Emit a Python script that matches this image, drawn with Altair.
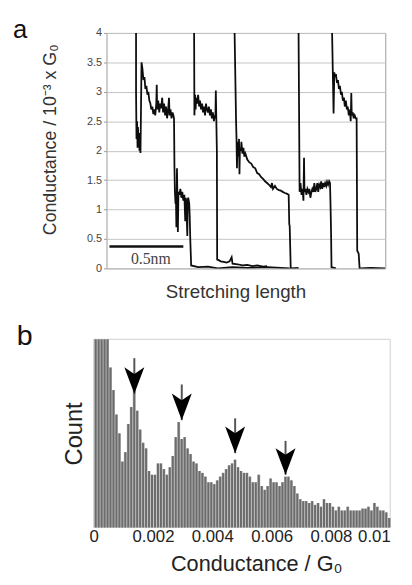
import altair as alt
import pandas as pd

FONT = "Liberation Sans"

t1_x = [0.200, 0.200, 0.203, 0.207, 0.210, 0.213, 0.217, 0.220, 0.223, 0.227,
        0.230, 0.233, 0.237, 0.243, 0.250, 0.257, 0.263, 0.270, 0.277, 0.283,
        0.290, 0.297, 0.303, 0.310, 0.317, 0.323, 0.330, 0.337, 0.340, 0.343,
        0.350, 0.357, 0.363, 0.370, 0.377, 0.383, 0.390, 0.397, 0.403, 0.410,
        0.417, 0.423, 0.427, 0.433, 0.440, 0.447, 0.453, 0.457, 0.460, 0.463,
        0.467, 0.470, 0.473, 0.477, 0.480, 0.483, 0.487, 0.493, 0.500, 0.507,
        0.513, 0.520, 0.527, 0.533, 0.537, 0.540, 0.547, 0.550, 0.553, 0.560,
        0.563, 0.567, 0.573, 0.620, 0.687, 0.753, 0.853, 0.953, 1.087, 1.180, 1.240]
t1_y = [4.0, 3.0, 2.2, 2.5, 2.05, 2.4, 2.1, 2.3, 2.0, 2.1,
        1.96, 2.6, 3.5, 3.4, 3.2, 3.25, 3.05, 3.1, 2.95, 3.0,
        2.85, 2.8, 2.7, 2.75, 2.62, 2.7, 2.6, 2.8, 3.12, 2.7,
        2.85, 2.65, 2.8, 2.72, 2.9, 2.65, 2.8, 2.6, 2.75, 2.55,
        2.7, 2.9, 2.6, 2.7, 2.55, 2.65, 2.6, 2.55, 1.7, 1.3,
        1.1, 1.2, 0.7, 1.7, 1.2, 0.62, 1.3, 1.25, 1.35, 1.2,
        1.3, 1.15, 1.25, 0.8, 1.2, 1.1, 0.55, 1.15, 1.2, 1.1,
        0.9, 0.5, 0.05, 0.02, 0.03, 0.0, 0.02, 0.01, 0.02, 0.01, 0.0]
t2_x = [0.593, 0.595, 0.600, 0.603, 0.607, 0.613, 0.620, 0.627, 0.633, 0.640,
        0.647, 0.653, 0.660, 0.667, 0.673, 0.680, 0.687, 0.693, 0.700, 0.707,
        0.713, 0.720, 0.727, 0.733, 0.737, 0.740, 0.747, 0.749, 0.760, 0.773,
        0.793, 0.813, 0.833, 0.847, 0.853, 0.887, 0.920, 0.953, 0.987, 1.020,
        1.060, 1.087]
t2_y = [4.0, 2.6, 2.95, 2.7, 2.9, 2.8, 2.95, 2.75, 2.85, 2.7,
        2.8, 2.65, 2.75, 2.6, 2.8, 2.7, 2.65, 2.75, 2.6, 2.7,
        2.55, 2.65, 2.5, 2.6, 2.55, 3.02, 2.0, 0.15, 0.14, 0.12,
        0.11, 0.1, 0.12, 0.19, 0.08, 0.07, 0.05, 0.06, 0.04, 0.05,
        0.03, 0.04]
t3_x = [0.867, 0.877, 0.880, 0.883, 0.887, 0.893, 0.897, 0.900, 0.903, 0.910,
        0.913, 0.920, 0.927, 0.933, 0.940, 0.953, 0.967, 0.980, 0.993, 1.007,
        1.020, 1.033, 1.047, 1.060, 1.073, 1.087, 1.100, 1.113, 1.120, 1.127,
        1.140, 1.153, 1.167, 1.180, 1.193, 1.207, 1.220, 1.233, 1.237, 1.240,
        1.247, 1.300]
t3_y = [4.0, 2.5, 2.2, 1.7, 2.15, 1.9, 2.2, 1.6, 2.05, 2.0,
        2.15, 1.95, 2.05, 1.9, 1.95, 1.85, 1.8, 1.78, 1.72, 1.7,
        1.62, 1.6, 1.55, 1.52, 1.48, 1.45, 1.42, 1.38, 1.45, 1.35,
        1.4, 1.35, 1.33, 1.32, 1.3, 1.28, 1.27, 1.25, 0.75, 0.72,
        0.0, 0.01]
t4_x = [1.300, 1.307, 1.313, 1.320, 1.327, 1.333, 1.337, 1.340, 1.347, 1.353,
        1.360, 1.367, 1.373, 1.380, 1.387, 1.393, 1.400, 1.407, 1.413, 1.420,
        1.427, 1.433, 1.440, 1.447, 1.453, 1.460, 1.467, 1.473, 1.480, 1.487,
        1.493, 1.500, 1.507, 1.513, 1.517, 1.520, 1.523, 1.553]
t4_y = [4.0, 1.3, 1.45, 1.25, 1.35, 1.15, 1.88, 1.3, 1.35, 1.25,
        1.35, 1.3, 1.35, 1.2, 1.3, 1.35, 1.3, 1.45, 1.3, 1.35,
        1.45, 1.3, 1.42, 1.38, 1.48, 1.35, 1.45, 1.38, 1.45, 1.4,
        1.47, 1.42, 1.48, 1.45, 1.0, 0.6, 0.02, 0.0]
t5_x = [1.527, 1.537, 1.542, 1.547, 1.553, 1.560, 1.567, 1.573, 1.580, 1.587,
        1.593, 1.600, 1.607, 1.613, 1.620, 1.627, 1.633, 1.640, 1.647, 1.653,
        1.657, 1.660, 1.667, 1.673, 1.680, 1.687, 1.693, 1.697, 1.707, 1.713,
        1.787, 1.887]
t5_y = [4.0, 2.63, 3.33, 3.25, 3.3, 3.15, 3.2, 3.05, 3.1, 2.95,
        3.0, 2.85, 2.9, 2.75, 2.85, 2.7, 2.75, 2.6, 2.7, 2.5,
        2.98, 2.6, 2.65, 2.55, 2.6, 2.55, 2.55, 0.3, 0.25, 0.0,
        0.01, 0.0]

x_domain_a = [0, 1.887]
y_ticks_a = [0, 0.5, 1, 1.5, 2, 2.5, 3, 3.5, 4]
scalebar_x = [0.02, 0.52]
scalebar_y = [0.37]
scalebar_text = ["0.5nm"]
scalebar_text_x = [0.30]
scalebar_text_y = [0.15]

bin_width = 0.0001
counts = [300, 260, 210, 170, 130, 85, 73, 60, 50, 35,
          40, 55, 64, 73, 62, 52, 45, 42, 30, 28,
          28, 34, 34, 31, 28, 32, 38, 48, 56, 47,
          48, 42, 39, 35, 34, 30, 29, 27, 24, 24,
          23, 25, 27, 29, 31, 33, 34, 36, 32, 30,
          29, 29, 27, 24, 24, 28, 22, 20, 22, 26,
          24, 24, 22, 24, 27, 27, 25, 22, 18, 15,
          14, 14, 13, 14, 12, 13, 11, 15, 13, 13,
          11, 9, 11, 9, 9, 11, 9, 9, 9, 9,
          10, 10, 11, 9, 13, 11, 9, 9, 8, 5]
x_domain_b = [0, 0.01]
y_domain_b = [0, 100]
x_ticks_b = [0, 0.002, 0.004, 0.006, 0.008, 0.01]
arrow_x = [0.00137, 0.00297, 0.00477, 0.00647]
arrow_tip = [71, 57, 39.5, 28]
arrow_tail = [90, 76, 58, 46]
panel_labels = ["a", "b"]

frames = []
for k, (xs, ys) in enumerate([(t1_x, t1_y), (t2_x, t2_y), (t3_x, t3_y),
                              (t4_x, t4_y), (t5_x, t5_y)]):
    d = pd.DataFrame({"x": xs, "y": ys})
    d["trace"] = k
    d["i"] = range(len(d))
    frames.append(d)
df_traces = pd.concat(frames, ignore_index=True)
df_bar = pd.DataFrame({"x": [scalebar_x[0]], "x2": [scalebar_x[1]], "y": scalebar_y})
df_bar_text = pd.DataFrame({"x": scalebar_text_x, "y": scalebar_text_y, "t": scalebar_text})
df_hist = pd.DataFrame({"count": counts})
df_hist["start"] = [i * bin_width for i in range(len(counts))]
df_hist["end"] = df_hist["start"] + bin_width
df_arrow = pd.DataFrame({"ax": arrow_x, "tip": arrow_tip, "tail": arrow_tail})
df_frame = pd.DataFrame({"ax": [x_domain_b[0]], "ax2": [x_domain_b[1]],
                         "tip": [y_domain_b[0]], "tip2": [y_domain_b[1]]})

# ---------------- panel a ----------------
scale_xa = alt.Scale(domain=x_domain_a, nice=False, zero=False)
scale_ya = alt.Scale(domain=[0, 4], nice=False)
axis_xa = alt.Axis(title="Stretching length", labels=False, ticks=False,
                   domain=False, grid=False, titleFont=FONT, titleFontSize=19,
                   titleFontWeight="normal", titleColor="#333",
                   titleX=131, titleY=15, titleBaseline="top")
axis_ya = alt.Axis(title="Conductance / 10⁻³ x G₀", values=y_ticks_a, format="~g",
                   grid=True, gridColor="#c4c4c4", domain=False, ticks=True,
                   tickSize=3, tickColor="#999", labelFont=FONT, labelFontSize=11,
                   labelColor="#444", labelPadding=2, titleFont=FONT,
                   titleFontSize=18, titleFontWeight="normal", titleColor="#333",
                   titleX=-48, titleY=108)
xa = alt.X("x:Q", scale=scale_xa, axis=axis_xa)
ya = alt.Y("y:Q", scale=scale_ya, axis=axis_ya)

lines = alt.Chart(df_traces).mark_line(color="#0d0d0d", strokeWidth=1.8, clip=True).encode(
    x=xa, y=ya, detail="trace:N", order="i:Q")
sbar = alt.Chart(df_bar).mark_rule(color="#111", strokeWidth=2.5).encode(
    x=xa, x2=alt.X2("x2:Q"), y=ya)
stext = alt.Chart(df_bar_text).mark_text(font="Liberation Serif", fontSize=16,
                                         color="#444", baseline="middle").encode(
    x=xa, y=ya, text="t:N")
label_a = alt.Chart(pd.DataFrame({"t": [panel_labels[0]]})).mark_text(
    font=FONT, fontSize=26, color="#111", align="left", baseline="alphabetic").encode(
    x=alt.value(-95), y=alt.value(5), text="t:N")

panel_a = alt.layer(lines, sbar, stext, label_a).properties(
    width=283, height=239,
    view=alt.ViewBackground(stroke="#9a9a9a", strokeWidth=1))

# ---------------- panel b (plot area starts 13 px left of panel a's) ----------------
scale_xb = alt.Scale(domain=x_domain_b, range=[-13, 288], nice=False, zero=False)
scale_yb = alt.Scale(domain=y_domain_b, nice=False, clamp=True)
axis_xb = alt.Axis(title="Conductance / G₀", values=x_ticks_b, format="~g",
                   labelFlush=False,
                   labelAlign={"condition": {"test": "datum.value > 0.0095", "value": "right"},
                               "value": "center"},
                   ticks=False, domain=False, grid=False,
                   labelFont=FONT, labelFontSize=17, labelColor="#222",
                   labelPadding=1, titleFont=FONT, titleFontSize=22,
                   titleFontWeight="normal", titleColor="#222",
                   titleX=152, titleY=27, titleBaseline="top")
axis_yb = alt.Axis(title="Count", labels=False, ticks=False, domain=False,
                   grid=False, titleFont=FONT, titleFontSize=24,
                   titleFontWeight="normal", titleColor="#222", titlePadding=20)
xb = alt.X("start:Q", bin="binned", scale=scale_xb, axis=axis_xb)
yb = alt.Y("count:Q", scale=scale_yb, axis=axis_yb)
xb_a = alt.X("ax:Q", scale=scale_xb, axis=axis_xb)

frame = alt.Chart(df_frame).mark_rect(filled=False, stroke="#cfcfcf", strokeWidth=1).encode(
    x=xb_a, x2="ax2:Q", y=alt.Y("tip:Q", scale=scale_yb, axis=axis_yb), y2="tip2:Q")
bars_bg = alt.Chart(df_hist).mark_bar(color="#b4b4b4", binSpacing=0).encode(
    x=xb, x2="end:Q", y=yb)
bars = alt.Chart(df_hist).mark_bar(color="#6c6c6c", binSpacing=1).encode(
    x=xb, x2="end:Q", y=yb)
shaft = alt.Chart(df_arrow).mark_rule(color="#555", strokeWidth=2).encode(
    x=xb_a, y=alt.Y("tail:Q", scale=scale_yb, axis=axis_yb), y2="tip:Q")
head = alt.Chart(df_arrow).mark_point(
    shape="M 0 1 L -0.75 -1 L 0 -0.5 L 0.75 -1 Z", size=729, filled=True,
    color="#000", opacity=1, yOffset=-13.5).encode(
    x=xb_a, y=alt.Y("tip:Q", scale=scale_yb, axis=axis_yb))
label_b = alt.Chart(pd.DataFrame({"t": [panel_labels[1]]})).mark_text(
    font=FONT, fontSize=29, color="#111", align="left", baseline="alphabetic").encode(
    x=alt.value(-91), y=alt.value(6), text="t:N")

panel_b = alt.layer(frame, bars_bg, bars, shaft, head, label_b).properties(
    width=288, height=191,
    view=alt.ViewBackground(stroke="transparent"))

chart = alt.concat(panel_a, panel_b, columns=1, spacing=19, align="none").properties(
    padding={"left": 4, "top": 4, "right": 0, "bottom": -1})

chart.save("out.html", embed_options={"renderer": "svg", "actions": False})
